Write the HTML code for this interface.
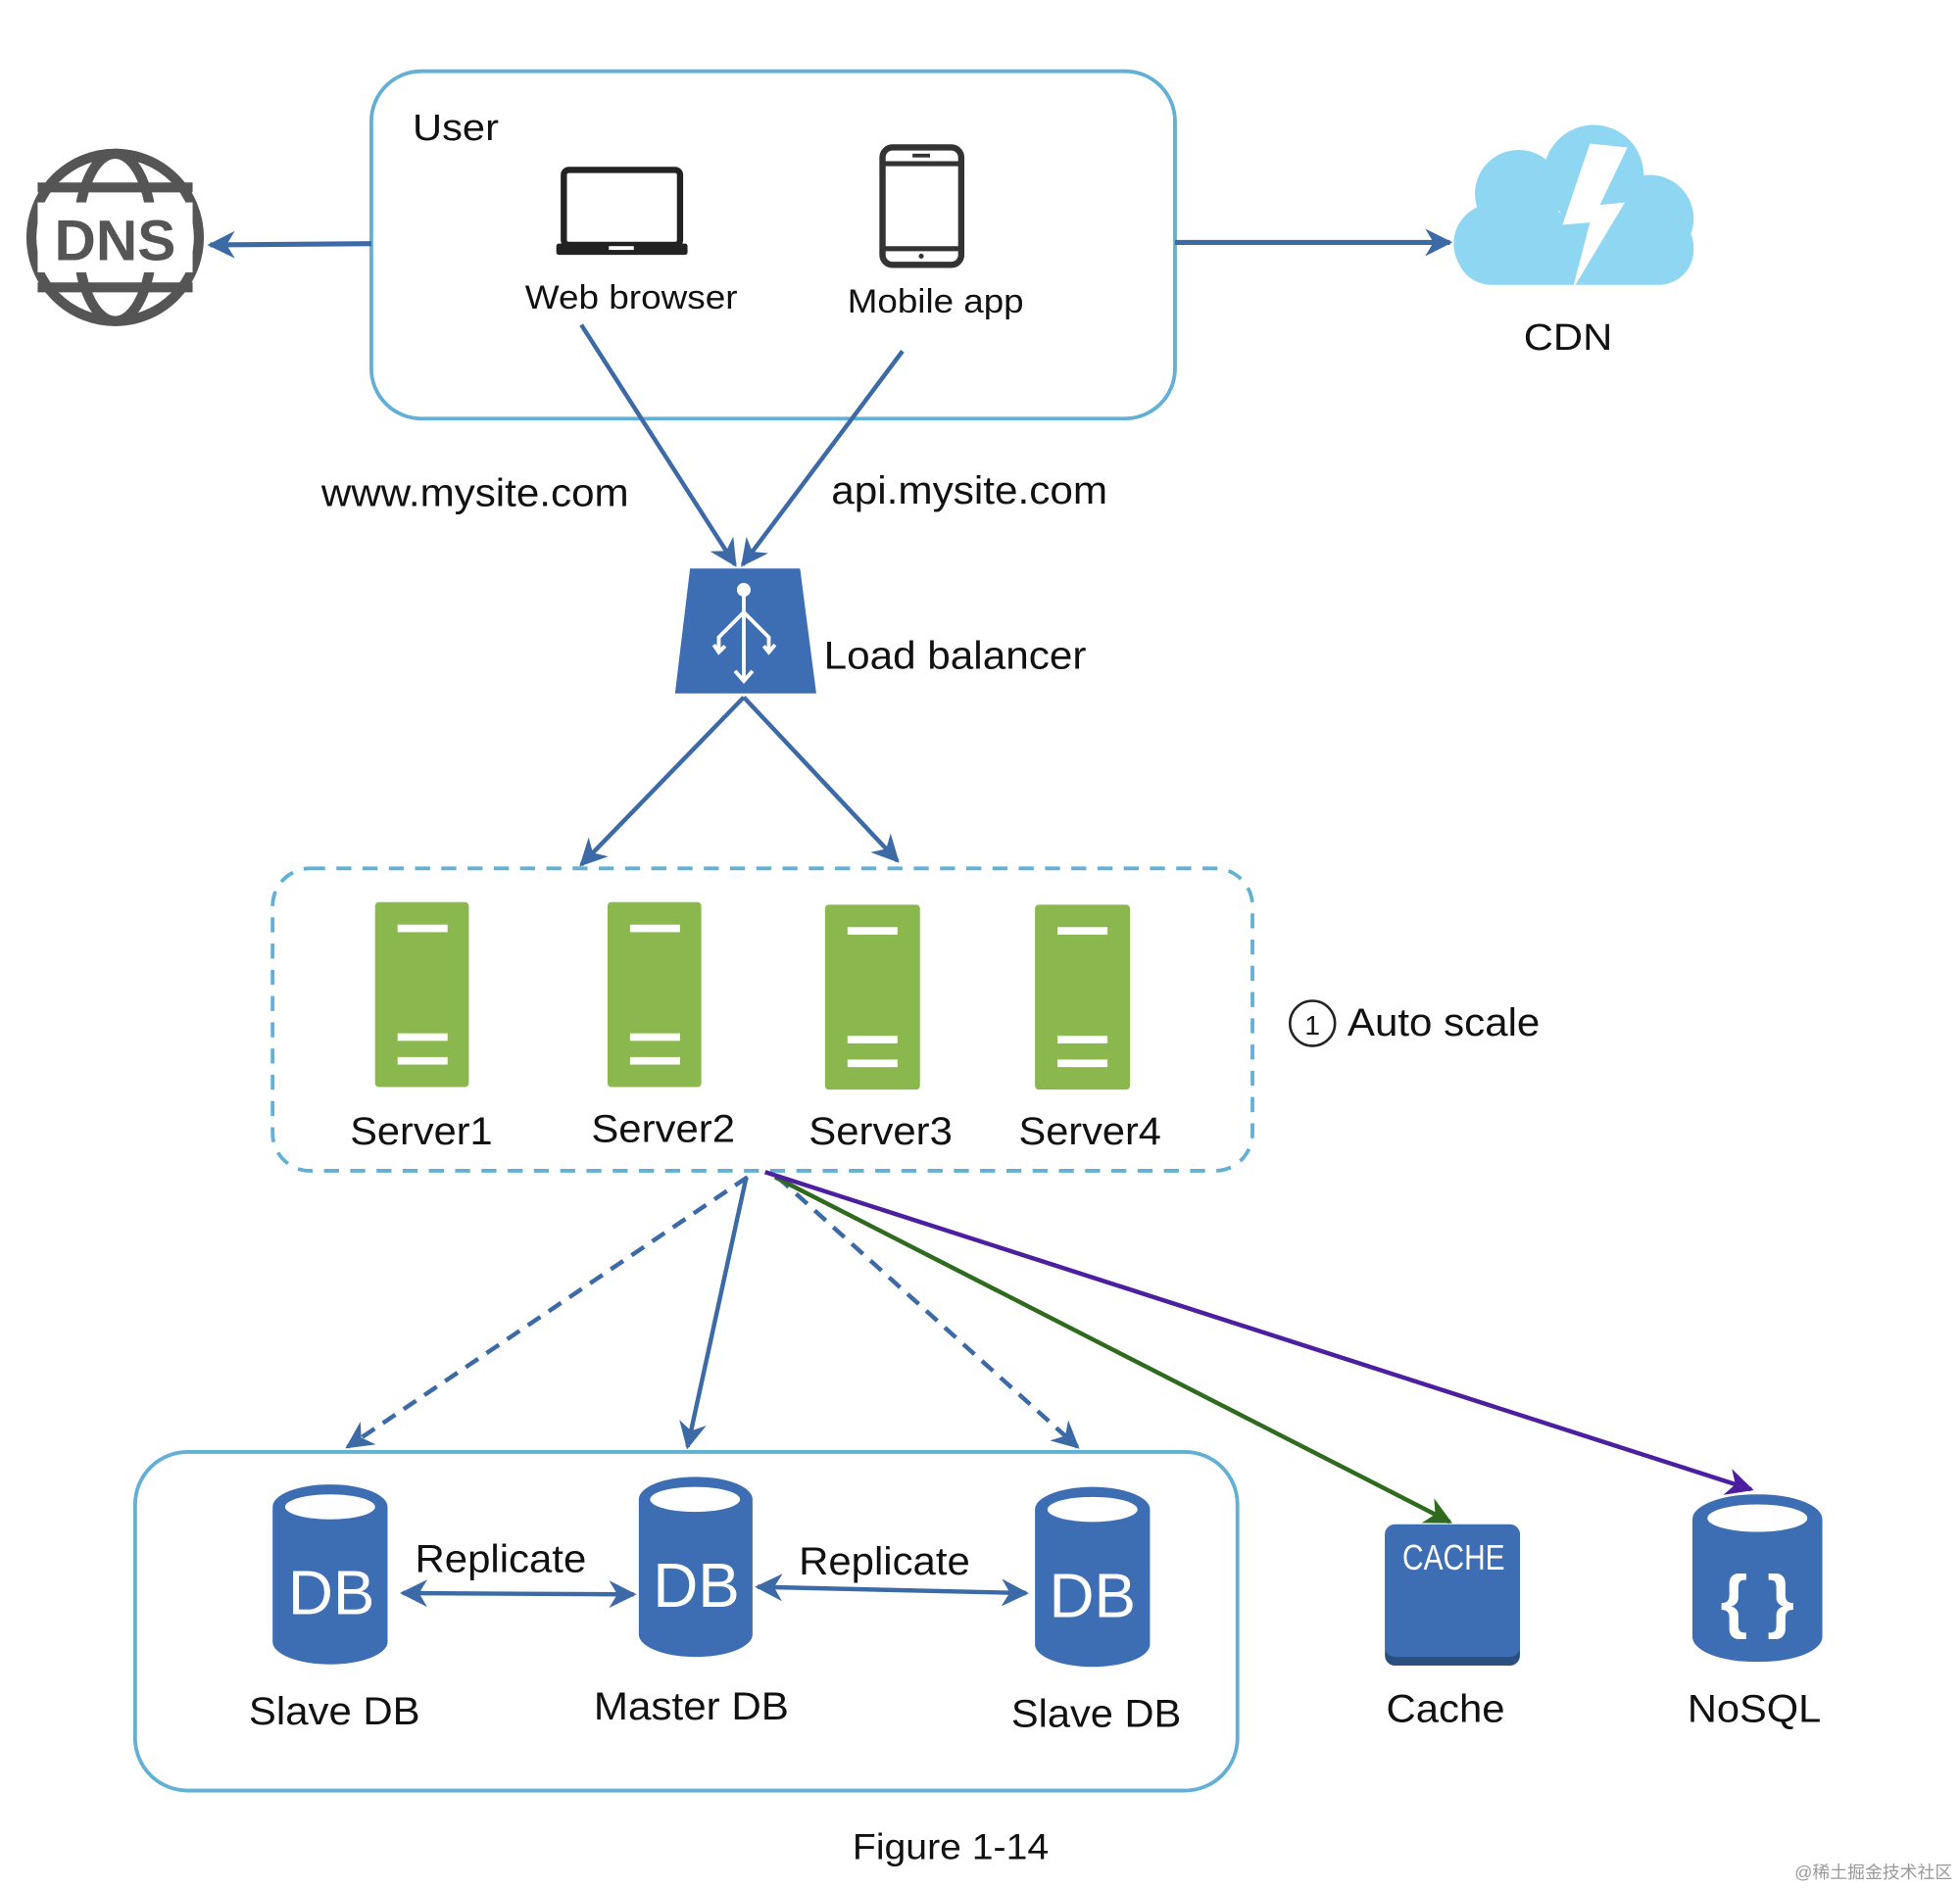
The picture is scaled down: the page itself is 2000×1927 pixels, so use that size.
<!DOCTYPE html>
<html><head><meta charset="utf-8"><style>
html,body{margin:0;padding:0;background:#fff;}
svg{display:block;}
text{font-family:"Liberation Sans",Arial,sans-serif;fill:#111;}
</style></head><body>
<svg width="2000" height="1927" viewBox="0 0 1568 1511" xmlns="http://www.w3.org/2000/svg">
<defs>
<marker id="ab2" viewBox="0 0 10 10" refX="9" refY="5" markerWidth="22" markerHeight="22" orient="auto-start-reverse" markerUnits="userSpaceOnUse"><path d="M0,0 L10,5 L0,10 L3,5 z" fill="#3c6aa6"/></marker>
<marker id="ag" viewBox="0 0 10 10" refX="9" refY="5" markerWidth="22" markerHeight="22" orient="auto" markerUnits="userSpaceOnUse"><path d="M0,0 L10,5 L0,10 L3,5 z" fill="#2f6a1e"/></marker>
<marker id="ap" viewBox="0 0 10 10" refX="9" refY="5" markerWidth="22" markerHeight="22" orient="auto" markerUnits="userSpaceOnUse"><path d="M0,0 L10,5 L0,10 L3,5 z" fill="#4b1fa0"/></marker>
</defs>
<rect width="1568" height="1511" fill="#fff"/>

<rect x="297" y="57" width="643" height="278" rx="40" fill="none" stroke="#63b0d6" stroke-width="3"/>
<text x="330" y="112" font-size="30" textLength="69" lengthAdjust="spacingAndGlyphs">User</text>
<rect x="451" y="136" width="93" height="60" rx="4" fill="none" stroke="#222" stroke-width="5"/>
<rect x="445" y="195" width="105" height="9" rx="2" fill="#222"/>
<rect x="487" y="197" width="20" height="3" fill="#fff"/>
<text x="420" y="247" font-size="27" textLength="170" lengthAdjust="spacingAndGlyphs">Web browser</text>
<rect x="706" y="118" width="63" height="94" rx="8" fill="none" stroke="#333" stroke-width="5"/>
<line x1="706" y1="131" x2="769" y2="131" stroke="#333" stroke-width="4"/>
<line x1="706" y1="199" x2="769" y2="199" stroke="#333" stroke-width="4"/>
<rect x="730" y="123" width="14" height="3" fill="#333"/>
<circle cx="737" cy="205" r="2" fill="#333"/>
<text x="678" y="250" font-size="27" textLength="141" lengthAdjust="spacingAndGlyphs">Mobile app</text>

<g stroke="#555" fill="none" stroke-width="8">
<circle cx="92" cy="190" r="67"/>
<ellipse cx="92" cy="190" rx="30" ry="67"/>
<line x1="30" y1="150" x2="154" y2="150"/>
<line x1="30" y1="230" x2="154" y2="230"/>
</g>
<rect x="30" y="162" width="124" height="56" fill="#fff"/>
<text x="92" y="208" font-size="46" font-weight="bold" text-anchor="middle" style="fill:#555">DNS</text>
<line x1="297" y1="195" x2="168" y2="196" stroke="#3c6aa6" stroke-width="4" marker-end="url(#ab2)"/>
<line x1="940" y1="194" x2="1160" y2="194" stroke="#3c6aa6" stroke-width="4" marker-end="url(#ab2)"/>

<g fill="#8fd6f2">
<circle cx="1215" cy="155" r="35"/>
<circle cx="1275" cy="140" r="40"/>
<circle cx="1320" cy="175" r="35"/>
<circle cx="1195" cy="195" r="32"/>
<rect x="1165" y="170" width="190" height="58" rx="28"/>
</g>
<path d="M1272,115 L1250,180 L1272,178 L1258,232 L1300,162 L1280,164 L1302,118 Z" fill="#fff"/>
<text x="1219" y="280" font-size="30" textLength="71" lengthAdjust="spacingAndGlyphs">CDN</text>

<line x1="465" y1="260" x2="588" y2="452" stroke="#3c6aa6" stroke-width="3.5" marker-end="url(#ab2)"/>
<line x1="722" y1="281" x2="594" y2="452" stroke="#3c6aa6" stroke-width="3.5" marker-end="url(#ab2)"/>
<text x="257" y="405" font-size="31" textLength="246" lengthAdjust="spacingAndGlyphs">www.mysite.com</text>
<text x="665" y="403" font-size="31" textLength="221" lengthAdjust="spacingAndGlyphs">api.mysite.com</text>

<path d="M552,455 L640,455 L653,555 L540,555 Z" fill="#3d6eb4"/>
<g stroke="#fff" stroke-width="3" fill="none">
<circle cx="595" cy="472" r="4" fill="#fff"/>
<line x1="595" y1="476" x2="595" y2="545"/>
<path d="M595,490 L575,510 L575,522"/><path d="M595,490 L615,510 L615,522"/>
<path d="M588,537 L595,545 L602,537"/>
<path d="M571,516 L575,522 L580,517"/><path d="M611,517 L615,522 L620,516"/>
</g>
<text x="659" y="535" font-size="31" textLength="210" lengthAdjust="spacingAndGlyphs">Load balancer</text>
<line x1="595" y1="558" x2="465" y2="692" stroke="#3c6aa6" stroke-width="3.5" marker-end="url(#ab2)"/>
<line x1="595" y1="558" x2="718" y2="689" stroke="#3c6aa6" stroke-width="3.5" marker-end="url(#ab2)"/>

<rect x="218" y="695" width="784" height="242" rx="30" fill="none" stroke="#63b0d6" stroke-width="3" stroke-dasharray="12,9"/>
<g fill="#8ab84f">
<rect x="300" y="722" width="75" height="148" rx="3"/>
<rect x="486" y="722" width="75" height="148" rx="3"/>
<rect x="660" y="724" width="76" height="148" rx="3"/>
<rect x="828" y="724" width="76" height="148" rx="3"/>
</g>
<g fill="#fff">
<rect x="318" y="740" width="40" height="6"/><rect x="318" y="827" width="40" height="6"/><rect x="318" y="846" width="40" height="6"/>
<rect x="504" y="740" width="40" height="6"/><rect x="504" y="827" width="40" height="6"/><rect x="504" y="846" width="40" height="6"/>
<rect x="678" y="742" width="40" height="6"/><rect x="678" y="829" width="40" height="6"/><rect x="678" y="848" width="40" height="6"/>
<rect x="846" y="742" width="40" height="6"/><rect x="846" y="829" width="40" height="6"/><rect x="846" y="848" width="40" height="6"/>
</g>
<text x="280" y="916" font-size="31" textLength="114" lengthAdjust="spacingAndGlyphs">Server1</text>
<text x="473" y="914" font-size="31" textLength="115" lengthAdjust="spacingAndGlyphs">Server2</text>
<text x="647" y="916" font-size="31" textLength="115" lengthAdjust="spacingAndGlyphs">Server3</text>
<text x="815" y="916" font-size="31" textLength="114" lengthAdjust="spacingAndGlyphs">Server4</text>
<circle cx="1050" cy="819" r="18" fill="none" stroke="#222" stroke-width="2"/>
<text x="1050" y="828" font-size="22" text-anchor="middle">1</text>
<text x="1078" y="829" font-size="31" textLength="154" lengthAdjust="spacingAndGlyphs">Auto scale</text>

<line x1="598" y1="942" x2="278" y2="1158" stroke="#3c6aa6" stroke-width="3.5" stroke-dasharray="12,8" marker-end="url(#ab2)"/>
<line x1="597" y1="942" x2="550" y2="1158" stroke="#3c6aa6" stroke-width="3.5" marker-end="url(#ab2)"/>
<line x1="622" y1="942" x2="862" y2="1158" stroke="#3c6aa6" stroke-width="3.5" stroke-dasharray="12,8" marker-end="url(#ab2)"/>
<line x1="620" y1="942" x2="1160" y2="1218" stroke="#2f6a1e" stroke-width="3.5" marker-end="url(#ag)"/>
<line x1="612" y1="938" x2="1401" y2="1192" stroke="#4b1fa0" stroke-width="3.5" marker-end="url(#ap)"/>

<rect x="108" y="1162" width="882" height="271" rx="42" fill="none" stroke="#63b0d6" stroke-width="3"/>
<g fill="#3d6eb4">
<rect x="218" y="1188" width="92" height="144" rx="46" ry="18"/>
<rect x="511" y="1182" width="91" height="144" rx="45" ry="18"/>
<rect x="828" y="1190" width="92" height="144" rx="46" ry="18"/>
<rect x="1354" y="1196" width="104" height="134" rx="50" ry="20"/>
</g>
<g fill="#fff">
<ellipse cx="264" cy="1206" rx="36" ry="10"/>
<ellipse cx="556" cy="1200" rx="36" ry="10"/>
<ellipse cx="874" cy="1208" rx="36" ry="10"/>
<ellipse cx="1406" cy="1215" rx="40" ry="11"/>
</g>
<text x="265" y="1292" font-size="50" text-anchor="middle" style="fill:#fff">DB</text>
<text x="557" y="1286" font-size="50" text-anchor="middle" style="fill:#fff">DB</text>
<text x="874" y="1294" font-size="50" text-anchor="middle" style="fill:#fff">DB</text>
<text x="1406" y="1300" font-size="56" font-weight="bold" text-anchor="middle" style="fill:#fff">{ }</text>
<line x1="322" y1="1275" x2="507" y2="1276" stroke="#3c6aa6" stroke-width="3.5" marker-start="url(#ab2)" marker-end="url(#ab2)"/>
<line x1="606" y1="1270" x2="821" y2="1275" stroke="#3c6aa6" stroke-width="3.5" marker-start="url(#ab2)" marker-end="url(#ab2)"/>
<text x="332" y="1258" font-size="31" textLength="137" lengthAdjust="spacingAndGlyphs">Replicate</text>
<text x="639" y="1260" font-size="31" textLength="137" lengthAdjust="spacingAndGlyphs">Replicate</text>
<text x="199" y="1380" font-size="31" textLength="137" lengthAdjust="spacingAndGlyphs">Slave DB</text>
<text x="475" y="1376" font-size="31" textLength="156" lengthAdjust="spacingAndGlyphs">Master DB</text>
<text x="809" y="1382" font-size="31" textLength="136" lengthAdjust="spacingAndGlyphs">Slave DB</text>

<rect x="1108" y="1220" width="108" height="113" rx="8" fill="#2d4f80"/>
<rect x="1108" y="1220" width="108" height="106" rx="8" fill="#3d6eb4"/>
<text x="1122" y="1256" font-size="28" textLength="82" lengthAdjust="spacingAndGlyphs" style="fill:#fff">CACHE</text>
<text x="1109" y="1378" font-size="31" textLength="95" lengthAdjust="spacingAndGlyphs">Cache</text>
<text x="1350" y="1378" font-size="31" textLength="107" lengthAdjust="spacingAndGlyphs">NoSQL</text>

<text x="682" y="1488" font-size="29" textLength="157" lengthAdjust="spacingAndGlyphs">Figure 1-14</text>
<text x="1562" y="1503" font-size="14" text-anchor="end" style="fill:#999" font-family="Liberation Sans, Noto Sans CJK SC, sans-serif">@稀土掘金技术社区</text>
</svg>
</body></html>
